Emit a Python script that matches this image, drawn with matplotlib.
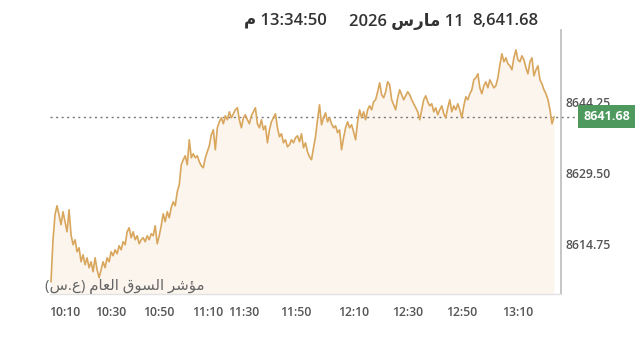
import matplotlib
matplotlib.use("Agg")
import matplotlib.pyplot as plt
import matplotlib.transforms as mtransforms
import numpy as np

# ---------------- data ----------------
seg_a = [8607.45, 8616.17, 8621.36, 8623.23, 8621.36, 8619.29, 8621.99, 8619.91, 8617.83, 8622.40,
         8617.21, 8615.13, 8616.17, 8613.68, 8614.51, 8611.60, 8613.06, 8610.98, 8612.43, 8610.36,
         8611.60, 8609.53, 8612.43, 8609.94, 8608.28]
seg_b = [8609.94, 8611.60, 8610.36, 8612.43, 8611.60, 8613.68, 8612.85, 8614.09, 8613.26, 8614.93,
         8614.09, 8615.76, 8615.13, 8617.83, 8618.66, 8616.59, 8617.83, 8616.17, 8617.00, 8615.34,
         8616.17, 8616.59, 8615.76, 8617.00, 8616.17, 8617.42, 8617.00, 8619.08, 8615.34, 8617.00,
         8619.08, 8621.57, 8619.91, 8621.99, 8620.74, 8622.82, 8624.06, 8623.23, 8626.14, 8627.60]
seg_c = [8631.75, 8632.79, 8633.62, 8631.75, 8636.94, 8633.20, 8634.03, 8633.20, 8633.62, 8632.37,
         8631.54, 8631.13, 8633.20, 8634.45, 8635.70, 8637.98, 8639.02, 8634.86, 8639.43, 8640.68,
         8641.51, 8640.27, 8641.93, 8641.10, 8642.76, 8641.51, 8642.34, 8643.17, 8643.59, 8641.10,
         8639.43, 8641.51, 8642.13, 8641.10, 8640.27, 8641.93, 8642.76, 8643.59, 8640.27, 8639.43,
         8641.10, 8639.02, 8639.85, 8636.32, 8639.02, 8640.68, 8641.51, 8642.34, 8639.43, 8637.57,
         8638.19, 8636.32, 8636.94, 8635.49, 8635.90, 8636.94, 8636.32, 8637.36, 8637.77, 8636.53,
         8638.19, 8635.28, 8636.32, 8634.45, 8633.41]
seg_d = [8632.79, 8635.28, 8637.57, 8641.10, 8644.21, 8640.06, 8641.51, 8642.55, 8640.68, 8641.51,
         8640.27, 8639.43, 8639.85, 8638.40, 8639.02, 8634.86, 8637.36, 8639.43, 8640.68, 8639.43,
         8640.06, 8638.60, 8636.94, 8640.68, 8643.17, 8641.51, 8642.76, 8641.10, 8643.17, 8644.00,
         8643.17, 8644.83, 8645.25, 8646.91, 8648.78, 8646.29, 8645.67, 8646.91, 8648.99, 8648.37,
         8645.25, 8644.21, 8643.17, 8645.67, 8647.33, 8646.29, 8645.25, 8646.08, 8646.91, 8646.29,
         8645.25, 8644.42, 8643.59, 8642.76, 8641.10, 8643.17, 8645.25, 8646.08, 8644.83, 8644.00,
         8644.42, 8642.76, 8643.59, 8642.13, 8643.17]
seg_e = [8644.00, 8642.34, 8641.51, 8643.59, 8645.25, 8642.76, 8644.00, 8643.17, 8644.42, 8643.17,
         8641.51, 8644.00, 8645.87, 8645.25, 8646.50, 8647.33, 8649.40, 8649.82, 8650.65, 8647.74,
         8646.50, 8648.16, 8648.99, 8647.74, 8649.40, 8648.57, 8647.74, 8648.16, 8649.82, 8652.52,
         8654.80, 8653.14, 8653.97, 8652.73, 8652.31, 8651.48, 8653.97, 8655.63, 8653.56, 8653.14,
         8654.39, 8653.56, 8651.90, 8650.65, 8653.14, 8653.97, 8650.23, 8651.48, 8652.31, 8649.40,
         8648.57, 8647.33, 8646.50, 8645.25, 8643.17, 8640.27, 8641.68]
values = seg_a + seg_b + seg_c + seg_d + seg_e

last_value = 8641.68
y_ticks = [8614.75, 8629.50, 8644.25]
x_tick_index = [7, 30, 54, 78, 96, 122, 151, 178, 205, 233]
x_tick_labels = ["10:10", "10:30", "10:50", "11:10", "11:30", "11:50",
                 "12:10", "12:30", "12:50", "13:10"]

# Arabic text, shaped with presentation forms, in visual (left-to-right) order
hdr_value = "8,641.68"
hdr_date = "2026 \uFEB1\uFEAD\uFE8E\uFEE3 11"          # 11 مارس 2026
hdr_time = "\uFEE1 13:34:50"                          # 13:34:50 م
index_name = ("(\uFEB1.\uFEC9) \uFEE1\uFE8E\uFECC\uFEDF\uFE8D "
              "\uFED5\uFEEE\uFEB4\uFEDF\uFE8D \uFEAE\uFEB7\uFE86\uFEE3")  # مؤشر السوق العام (ع.س)

# ---------------- style ----------------
FONT = ["Open Sans", "DejaVu Sans"]
plt.rcParams["font.family"] = FONT
LINE_C = "#D8A65C"
FILL_C = "#FCF5EE"
TXT_C = "#555555"

W, H = 640, 346
fig = plt.figure(figsize=(W / 100, H / 100), dpi=100)
ax = fig.add_axes([50 / W, 1 - 294 / H, 511 / W, 264 / H])

x = np.arange(len(values))
ymin, ymax = 8604.9, 8659.75
ax.fill_between(x, values, ymin, color=FILL_C, lw=0, zorder=1)
ax.plot(x, values, color=LINE_C, lw=1.2, zorder=3)

ax.set_xlim(-0.5, 254.5)
ax.set_ylim(ymin, ymax)

# dotted last-value line, extended to the badge
ax.plot([0, 1.035], [last_value, last_value], transform=ax.get_yaxis_transform(),
        ls=(0, (1.5, 2.5)), color="#777777", lw=1.0, clip_on=False, zorder=2)

badge = ax.annotate(f"{last_value:.2f}", xy=(1.089, last_value),
                    xycoords=("axes fraction", "data"), ha="center", va="center",
                    color="white", fontsize=9, fontweight="bold", family=FONT,
                    bbox=dict(boxstyle="square,pad=0.4", fc="#4E9A5E", ec="none"),
                    annotation_clip=False, zorder=5)
badge.set_transform(badge.get_transform()
                    + mtransforms.ScaledTranslation(0, -1.5 / 100, fig.dpi_scale_trans))

for s in ["left", "top"]:
    ax.spines[s].set_visible(False)
ax.spines["right"].set_color("#BBBBBB")
ax.spines["right"].set_linewidth(1.2)
ax.spines["bottom"].set_color("#E2E2E2")
ax.spines["bottom"].set_linewidth(1.0)

ax.yaxis.tick_right()
ax.set_yticks(y_ticks)
ax.set_yticklabels([f"{v:.2f}" for v in y_ticks])
ax.set_xticks(x_tick_index)
ax.set_xticklabels(x_tick_labels)
ax.tick_params(axis="both", length=0, labelsize=8.8, labelcolor=TXT_C)
ax.tick_params(axis="y", pad=3)
ax.tick_params(axis="x", pad=8.5)
shift_up = mtransforms.ScaledTranslation(0, 2.5 / 100, fig.dpi_scale_trans)
for lab in ax.get_yticklabels():
    lab.set_transform(lab.get_transform() + shift_up)
for lab in ax.get_xticklabels() + ax.get_yticklabels():
    lab.set_fontweight("semibold")

# header
hy = 1 - 21 / H
fig.text(505.5 / W, hy, hdr_value, ha="center", va="center", fontsize=12,
         fontweight="semibold", color="#333333", family=FONT)
fig.text(406 / W, hy, hdr_date, ha="center", va="center", fontsize=12,
         fontweight="semibold", color="#333333", family=FONT)
fig.text(285.5 / W, hy, hdr_time, ha="center", va="center", fontsize=12,
         fontweight="semibold", color="#333333", family=FONT)

# index name
fig.text(45 / W, 1 - 287 / H, index_name, ha="left", va="center", fontsize=10.8,
         color="#666666", family=FONT)

fig.savefig("out.png", dpi=100, facecolor="white")
